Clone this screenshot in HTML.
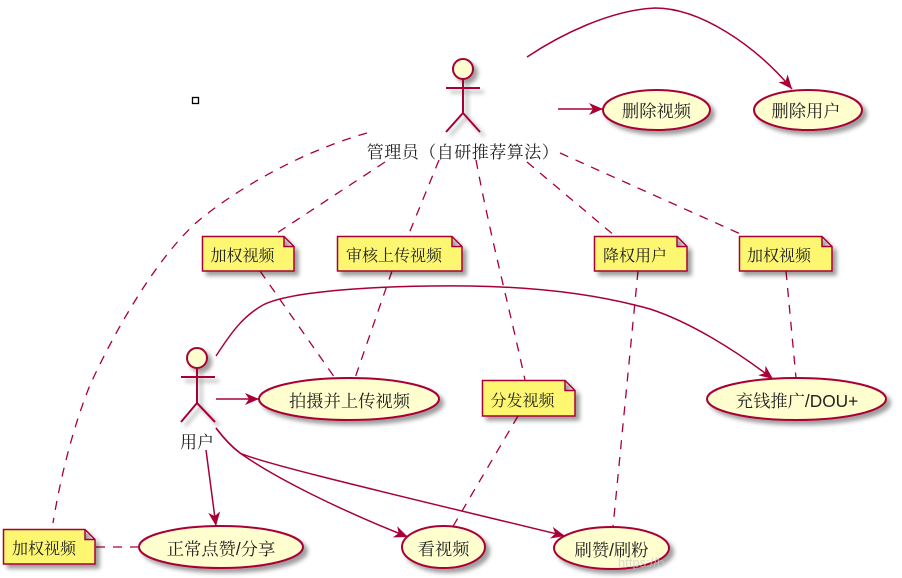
<!DOCTYPE html>
<html><head><meta charset="utf-8"><style>
html,body{margin:0;padding:0;background:#fff}
svg{display:block}
text{font-family:"Liberation Sans","Noto Serif CJK SC",serif;fill:#222}
.l{fill:none;stroke:#A80036;stroke-width:1.5}
.d{fill:none;stroke:#A80036;stroke-width:1.3;stroke-dasharray:9 8}
.u{fill:#FEFECE;stroke:#A80036;stroke-width:2}
.n{fill:#FCF670;stroke:#A80036;stroke-width:1.5}
.a{fill:none;stroke:#A80036;stroke-width:2}
</style></head><body>
<svg width="902" height="578" viewBox="0 0 902 578" xmlns="http://www.w3.org/2000/svg">
<defs>
<filter id="s" x="-20%" y="-20%" width="150%" height="150%"><feDropShadow dx="4" dy="4" stdDeviation="2" flood-color="#000" flood-opacity=".38"/></filter>
<marker id="h" markerUnits="userSpaceOnUse" markerWidth="16" markerHeight="14" refX="15" refY="7" orient="auto"><path d="M15,7 L1,1 L5,7 L1,13 Z" fill="#A80036"/></marker>
</defs>
<rect x="192.500" y="97.500" width="6" height="6" fill="#fff" stroke="#000" stroke-width="1.300"/>

<!-- dashed connectors -->
<path class="d" d="M367,133 C300,152 235,190 197,222 C160,255 120,320 90,385 C72,430 60,480 53,523"/>
<path class="d" d="M385,162 L277,233"/>
<path class="d" d="M439,160 L408,236"/>
<path class="d" d="M476,160 C490,235 510,310 525,380"/>
<path class="d" d="M527,162 L615,236"/>
<path class="d" d="M560,153 L745,236"/>
<path class="d" d="M260,271 L335,378"/>
<path class="d" d="M392,271 L355,378"/>
<path class="d" d="M518,416 L452,528"/>
<path class="d" d="M638,271 L613,527"/>
<path class="d" d="M786,271 L796,378"/>
<path class="d" d="M96,547 L139,547"/>

<!-- solid connectors -->
<path class="l" d="M527,57 C560,35 610,10 655,8 C700,8 755,45 792,89" marker-end="url(#h)"/>
<path class="l" d="M558,109 L603,109" marker-end="url(#h)"/>
<path class="l" d="M216,356 C228,338 240,318 263,305 C290,291 380,285 470,286 C540,287 600,295 650,309 C690,322 735,350 773,379" marker-end="url(#h)"/>
<path class="l" d="M216,399 L259,399" marker-end="url(#h)"/>
<path class="l" d="M206,450 L216,526" marker-end="url(#h)"/>
<path class="l" d="M216,428 C225,440 232,447 240,453 C275,478 340,510 408,537" marker-end="url(#h)"/>
<path class="l" d="M216,428 C225,440 232,447 240,453 C262,464 430,503 565,536" marker-end="url(#h)"/>

<!-- admin actor -->
<g filter="url(#s)">
<circle class="u" cx="463" cy="69" r="10"/>
<path class="a" d="M463,79 V113 M446,88 H480 M446,132 L463,113 L480,132"/>
</g>
<text x="463" y="158" font-size="17" letter-spacing=".5" text-anchor="middle">管理员（自研推荐算法）</text>

<!-- user actor -->
<g filter="url(#s)">
<circle class="u" cx="197" cy="358" r="10"/>
<path class="a" d="M197,368 V403 M181,377 H215 M181,422 L197,403 L215,422"/>
</g>
<text x="197" y="448" font-size="17" text-anchor="middle">用户</text>

<!-- use cases -->
<g filter="url(#s)">
<ellipse class="u" cx="656.500" cy="110" rx="53.500" ry="20"/>
<ellipse class="u" cx="808" cy="110" rx="54" ry="20"/>
<ellipse class="u" cx="349" cy="399" rx="90" ry="21"/>
<ellipse class="u" cx="796.500" cy="399" rx="89.500" ry="21"/>
<ellipse class="u" cx="221" cy="547" rx="82" ry="21"/>
<ellipse class="u" cx="443.500" cy="547" rx="41.500" ry="21"/>
<ellipse class="u" cx="611.500" cy="548" rx="57.500" ry="21"/>
</g>
<g font-size="17.300" text-anchor="middle">
<text x="656.500" y="117">删除视频</text>
<text x="806" y="117">删除用户</text>
<text x="349.500" y="407">拍摄并上传视频</text>
<text x="797" y="407">充钱推广/DOU+</text>
<text x="221" y="555">正常点赞/分享</text>
<text x="443.500" y="555">看视频</text>
<text x="611.500" y="556">刷赞/刷粉</text>
</g>

<!-- notes -->
<g filter="url(#s)">
<path class="n" d="M202.500,236.500 H284 L294,246.500 V271 H202.500 Z M284,236.500 V246.500 H294"/>
<path class="n" d="M337.500,236.500 H452 L462,246.500 V271 H337.500 Z M452,236.500 V246.500 H462"/>
<path class="n" d="M594.500,236.500 H677 L687,246.500 V271 H594.500 Z M677,236.500 V246.500 H687"/>
<path class="n" d="M739.500,236.500 H822 L832,246.500 V271 H739.500 Z M822,236.500 V246.500 H832"/>
<path class="n" d="M482.500,380.500 H565 L575,390.500 V416 H482.500 Z M565,380.500 V390.500 H575"/>
<path class="n" d="M3.500,529.500 H85 L95,539.500 V564 H3.500 Z M85,529.500 V539.500 H95"/>
</g>
<g font-size="16" text-anchor="middle">
<text x="242.500" y="261">加权视频</text>
<text x="394" y="261">审核上传视频</text>
<text x="635" y="261">降权用户</text>
<text x="779" y="261">加权视频</text>
<text x="522.500" y="406">分发视频</text>
<text x="44" y="554">加权视频</text>
</g>
<text x="618" y="567" font-size="13" style="fill:#ccc" opacity=".7">https://b</text>
</svg>
</body></html>
